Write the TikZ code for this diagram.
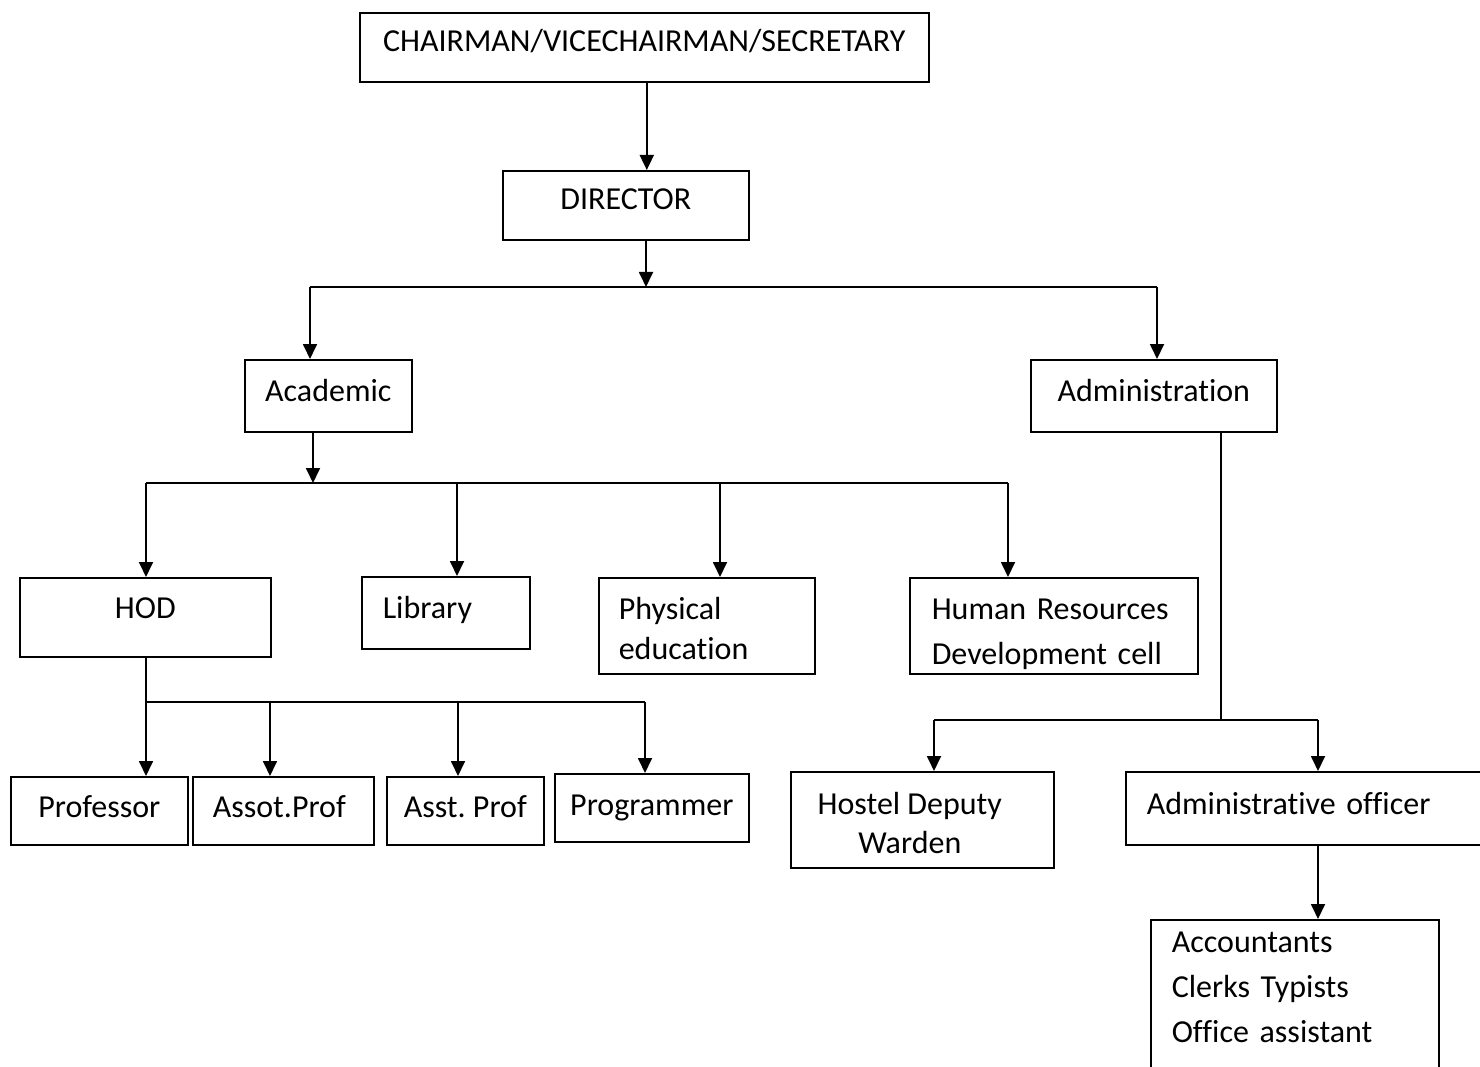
\documentclass[tikz,border=0pt]{standalone}
\usepackage{fontspec}
\setmainfont{Carlito}[Ligatures=NoCommon]
\usetikzlibrary{arrows.meta}
\begin{document}
\frenchspacing
\begin{tikzpicture}[x=1pt,y=-1pt,
  box/.style={draw, line width=1.6pt, anchor=north west, inner sep=0pt,
    font=\fontsize{32}{45}\selectfont, text height=20.6pt, text depth=#1},
  box/.default=0pt,
  lbox/.style={box=#1, align=left},
  lbox/.default=0pt,
  arr/.style={line width=1.8pt, -{Triangle[width=14pt,length=15pt]}},
  ln/.style={line width=1.8pt}]
\useasboundingbox (0,0) rectangle (1480,1067);

% boxes
\node[box=13pt, minimum width=569pt, minimum height=69pt] (chair) at (359,12) {CHAIRMAN/VICECHAIRMAN/SECRETARY};
\node[box=13pt, minimum width=246pt, minimum height=69pt] (dir) at (502,170) {DIRECTOR};
\node[box=10pt, minimum width=167pt, minimum height=72pt] (acad) at (244,359) {Academic};
\node[box=10pt, minimum width=246pt, minimum height=72pt] (admin) at (1030,359) {Administration};

\node[box=19pt, minimum width=251pt, minimum height=79pt] (hod) at (19,577) {HOD};
\node[lbox=10pt, minimum height=72pt, inner xsep=21pt, text width=126pt] (lib) at (361,576) {Library};
\node[lbox=34pt, minimum height=96pt, inner xsep=20pt, text width=176pt, font=\fontsize{32}{40}\selectfont] (phys) at (598,577) {Physical\\education};
\node[lbox=34pt, minimum height=96pt, inner xsep=22pt, text width=244pt] (hrd) at (909,577) {Human Resources\\Development cell};

\node[box=8pt, minimum width=177pt, minimum height=68pt] (prof) at (10,776) {Professor};
\node[lbox=8pt, minimum height=68pt, inner xsep=20pt, text width=141pt] (assoc) at (192,776) {Assot.Prof};
\node[box=8pt, minimum width=157pt, minimum height=68pt] (asst) at (386,776) {Asst. Prof};
\node[box=6pt, minimum width=194pt, minimum height=68pt] (prog) at (554,773) {Programmer};

\node[box=32pt, minimum width=263pt, minimum height=96pt, font=\fontsize{32}{39}\selectfont] (hostel) at (790,771)
  {\begin{tabular}[t]{@{}c@{}}Hostel Deputy\\Warden\end{tabular}\hspace*{25pt}};
\node[lbox=9pt, minimum height=73pt, inner xsep=21pt, text width=333pt] (officer) at (1125,771) {Administrative officer};
\node[lbox=136pt, minimum height=180pt, inner xsep=21pt, text width=246pt] (staff) at (1150,919)
  {Accountants\\Clerks Typists\\Office assistant};

% junction points
\coordinate (j1) at (646,287);
\coordinate (j1L) at (310,287);
\coordinate (j1R) at (1157,287);
\coordinate (j2) at (313,483);
\coordinate (j2L) at (146,483);
\coordinate (j2R) at (1008,483);
\coordinate (j3L) at (146,702);
\coordinate (j3R) at (645,702);
\coordinate (j4) at (1221,720);
\coordinate (j4L) at (934,720);
\coordinate (j4R) at (1318,720);

% connectors
\draw[arr] ([xshift=2.5pt]chair.south) -- ([xshift=2.5pt]chair.south |- dir.north);
\draw[arr] (dir.south -| j1) -- (j1);
\draw[ln] (j1L) -- (j1R);
\draw[arr] (j1L) -- (j1L |- acad.north);
\draw[arr] (j1R) -- (j1R |- admin.north);

\draw[arr] (acad.south -| j2) -- (j2);
\draw[ln] (j2L) -- (j2R);
\draw[arr] (j2L) -- (j2L |- hod.north);
\draw[arr] (457,483) -- (457,483 |- lib.north);
\draw[arr] (720,483) -- (720,483 |- phys.north);
\draw[arr] (j2R) -- (j2R |- hrd.north);

\draw[ln] (hod.south -| j3L) -- (j3L);
\draw[ln] (j3L) -- (j3R);
\draw[arr] (j3L) -- (j3L |- prof.north);
\draw[arr] (270,702) -- (270,702 |- assoc.north);
\draw[arr] (458,702) -- (458,702 |- asst.north);
\draw[arr] (j3R) -- (j3R |- prog.north);

\draw[ln] (admin.south -| j4) -- (j4);
\draw[ln] (j4L) -- (j4R);
\draw[arr] (j4L) -- (j4L |- hostel.north);
\draw[arr] (j4R) -- (j4R |- officer.north);
\draw[arr] (officer.south -| j4R) -- (j4R |- staff.north);
\end{tikzpicture}
\end{document}
